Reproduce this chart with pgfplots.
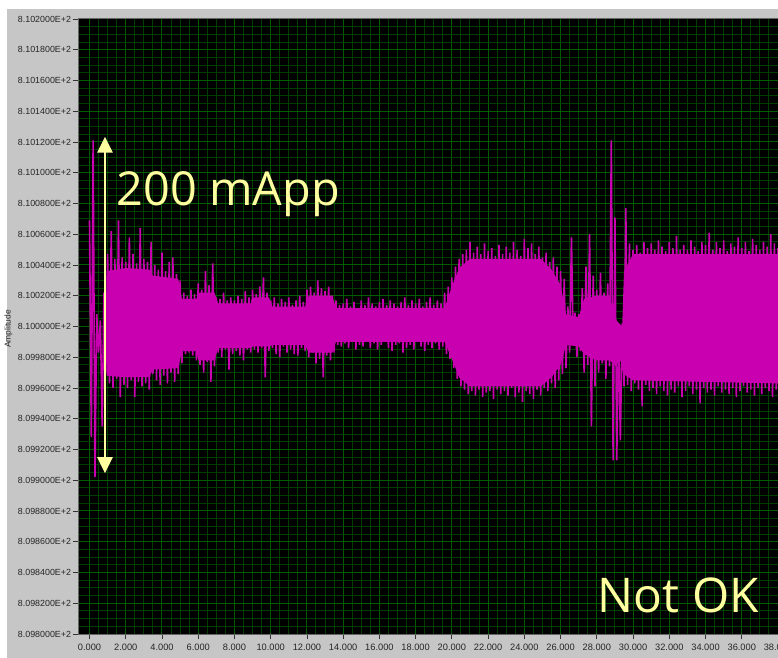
\documentclass[border=0pt]{standalone}
\usepackage{pgfplots}
\pgfplotsset{compat=1.18}
\usetikzlibrary{arrows.meta}
\usepackage{fontspec}
\setmainfont{Liberation Sans}
\newfontfamily\annotfont{Open Sans}
\definecolor{bggray}{RGB}{198,198,198}
\definecolor{gridmajor}{RGB}{0,94,0}
\definecolor{gridminor}{RGB}{0,62,0}
\definecolor{mag}{RGB}{200,0,176}
\definecolor{annot}{RGB}{255,255,160}
\begin{document}
\begin{tikzpicture}
\useasboundingbox (0,0) rectangle (778bp,658bp);
\clip (0,0) rectangle (778bp,658bp);
\fill[white] (0,0) rectangle (778bp,658bp);
\fill[bggray] (7bp,0) rectangle (778bp,649bp);
\node[rotate=90, font=\fontsize{8.5}{10}\selectfont, text=black!85] at (8.5bp,329bp) {Amplitude};
\begin{axis}[
  at={(78bp,24bp)}, anchor=south west,
  scale only axis, width=700bp, height=615bp,
  xmin=-0.635, xmax=38.0, ymin=-200, ymax=200,
  axis background/.style={fill=black},
  axis line style={draw=black!60, line width=1bp},
  xtick={0,2,...,38},
  xticklabels={0.000,2.000,4.000,6.000,8.000,10.000,12.000,14.000,16.000,18.000,20.000,22.000,24.000,26.000,28.000,30.000,32.000,34.000,36.000,38.000},
  ytick={-200,-180,...,200},
  yticklabels={8.098000E+2,8.098200E+2,8.098400E+2,8.098600E+2,8.098800E+2,8.099000E+2,8.099200E+2,8.099400E+2,8.099600E+2,8.099800E+2,8.100000E+2,8.100200E+2,8.100400E+2,8.100600E+2,8.100800E+2,8.101000E+2,8.101200E+2,8.101400E+2,8.101600E+2,8.101800E+2,8.102000E+2},
  minor x tick num=3, minor y tick num=3,
  grid=both,
  major grid style={draw=gridmajor, line width=1bp},
  minor grid style={draw=gridminor, line width=1bp},
  tick align=outside, tick pos=left,
  major tick length=5bp, minor tick length=0bp,
  every tick/.style={draw=black!80, line width=0.8bp},
  ticklabel style={text=black!85},
  xticklabel style={font=\fontsize{9.3}{10}\selectfont, yshift=-2bp},
  yticklabel style={font=\fontsize{8.9}{10}\selectfont, xshift=1.5bp},
]
% core of the noise band
\addplot[fill=mag, draw=none] coordinates {
(0.95,36)(2,38)(3.3,37)(3.5,33)(4.9,31)(5.1,18)(5.9,18)(6.0,22)(6.9,22)(7.1,15)(8.9,15)(9.0,19)(9.9,19)(10.1,13)(11.9,13)(12.1,20)(13.4,20)(13.6,12)(19.6,12)(20.0,26)(20.4,38)(21,44)(24.9,44)(25.5,37)(26.0,27)(26.3,8)(27.0,6)(27.3,18)(28.0,20)(28.7,20)(29.0,5)(29.4,0)(29.5,36)(30.0,47)(38,47)
(38,-37)(30.0,-35)(29.5,-31)(29.4,-22)(29.0,-25)(28.7,-22)(28.0,-22)(27.3,-18)(27.0,-13)(26.3,-12)(26.0,-25)(25.5,-33)(24.9,-39)(21,-39)(20.4,-33)(20.0,-21)(19.6,-10)(13.6,-10)(13.4,-17)(12.1,-17)(11.9,-12)(10.1,-12)(9.9,-13)(9.0,-13)(8.9,-14)(7.1,-14)(6.9,-22)(6.0,-22)(5.9,-16)(5.1,-16)(4.9,-27)(3.5,-28)(3.3,-33)(2,-33)(0.95,-32)
};
% oscillating signal (peak / trough samples)
\addplot[mag, line width=1.6bp, line join=bevel, mark=none] coordinates {
(0.0,69)(0.1,-72)(0.2,121)(0.3,-98)(0.4,8)(0.5,-17)(0.6,4)(0.7,-65)(0.8,22)(0.9,-30)
(1.0,47)(1.1,-37)(1.2,62)(1.3,-40)(1.4,44)(1.5,-34)(1.6,69)(1.7,-46)(1.8,45)(1.9,-38)
(2.0,42)(2.1,-40)(2.2,58)(2.3,-35)(2.4,47)(2.5,-46)(2.6,41)(2.7,-36)(2.8,64)(2.9,-39)
(3.0,44)(3.1,-37)(3.2,42)(3.3,-41)(3.4,55)(3.5,-31)(3.6,40)(3.7,-35)(3.8,37)(3.9,-38)
(4.0,48)(4.1,-32)(4.2,36)(4.3,-37)(4.4,42)(4.5,-30)(4.6,45)(4.7,-36)(4.8,34)(4.9,-31)
(5.0,30)(5.1,-24)(5.2,22)(5.3,-18)(5.4,20)(5.5,-17)(5.6,24)(5.7,-19)(5.8,21)(5.9,-22)
(6.0,28)(6.1,-25)(6.2,24)(6.3,-30)(6.4,36)(6.5,-23)(6.6,27)(6.7,-36)(6.8,41)(6.9,-26)
(7.0,19)(7.1,-17)(7.2,18)(7.3,-20)(7.4,22)(7.5,-15)(7.6,17)(7.7,-28)(7.8,19)(7.9,-18)
(8.0,17)(8.1,-16)(8.2,20)(8.3,-19)(8.4,18)(8.5,-22)(8.6,23)(8.7,-15)(8.8,19)(8.9,-17)
(9.0,24)(9.1,-15)(9.2,21)(9.3,-17)(9.4,26)(9.5,-14)(9.6,32)(9.7,-33)(9.8,22)(9.9,-16)
(10.0,17)(10.1,-14)(10.2,19)(10.3,-18)(10.4,15)(10.5,-20)(10.6,18)(10.7,-13)(10.8,16)(10.9,-17)
(11.0,19)(11.1,-15)(11.2,14)(11.3,-18)(11.4,17)(11.5,-19)(11.6,20)(11.7,-14)(11.8,16)(11.9,-16)
(12.0,24)(12.1,-20)(12.2,26)(12.3,-17)(12.4,22)(12.5,-24)(12.6,30)(12.7,-21)(12.8,25)(12.9,-33)
(13.0,23)(13.1,-19)(13.2,26)(13.3,-22)(13.4,20)(13.5,-17)(13.6,17)(13.7,-12)(13.8,14)(13.9,-13)
(14.0,15)(14.1,-11)(14.2,18)(14.3,-14)(14.4,13)(14.5,-10)(14.6,16)(14.7,-15)(14.8,12)(14.9,-12)
(15.0,17)(15.1,-13)(15.2,14)(15.3,-9)(15.4,19)(15.5,-14)(15.6,15)(15.7,-11)(15.8,13)(15.9,-15)
(16.0,16)(16.1,-12)(16.2,18)(16.3,-10)(16.4,14)(16.5,-14)(16.6,17)(16.7,-16)(16.8,15)(16.9,-12)
(17.0,13)(17.1,-11)(17.2,16)(17.3,-17)(17.4,19)(17.5,-14)(17.6,14)(17.7,-12)(17.8,17)(17.9,-15)
(18.0,15)(18.1,-10)(18.2,18)(18.3,-13)(18.4,13)(18.5,-16)(18.6,16)(18.7,-12)(18.8,19)(18.9,-14)
(19.0,14)(19.1,-11)(19.2,17)(19.3,-15)(19.4,15)(19.5,-13)(19.6,22)(19.7,-18)(19.8,26)(19.9,-21)
(20.0,32)(20.1,-27)(20.2,39)(20.3,-34)(20.4,44)(20.5,-39)(20.6,47)(20.7,-41)(20.8,50)(20.9,-44)
(21.0,55)(21.1,-42)(21.2,48)(21.3,-45)(21.4,52)(21.5,-41)(21.6,47)(21.7,-46)(21.8,54)(21.9,-43)
(22.0,49)(22.1,-42)(22.2,51)(22.3,-47)(22.4,46)(22.5,-41)(22.6,53)(22.7,-44)(22.8,47)(22.9,-42)
(23.0,52)(23.1,-45)(23.2,48)(23.3,-40)(23.4,55)(23.5,-46)(23.6,50)(23.7,-43)(23.8,46)(23.9,-49)
(24.0,57)(24.1,-42)(24.2,51)(24.3,-44)(24.4,54)(24.5,-47)(24.6,47)(24.7,-41)(24.8,52)(24.9,-45)
(25.0,45)(25.1,-40)(25.2,48)(25.3,-42)(25.4,42)(25.5,-37)(25.6,45)(25.7,-40)(25.8,39)(25.9,-35)
(26.0,36)(26.1,-31)(26.2,31)(26.3,-27)(26.4,13)(26.5,-17)(26.6,58)(26.7,-12)(26.8,9)(26.9,-20)
(27.0,8)(27.1,-16)(27.2,25)(27.3,-30)(27.4,39)(27.5,-25)(27.6,60)(27.7,-65)(27.8,33)(27.9,-39)
(28.0,24)(28.1,-30)(28.2,35)(28.3,-24)(28.4,22)(28.5,-34)(28.6,28)(28.7,-26)(28.8,121)(28.9,-87)
(29.0,71)(29.1,-87)(29.2,-2)(29.3,-74)(29.4,2)(29.5,-39)(29.6,77)(29.7,-38)(29.8,54)(29.9,-42)
(30.0,50)(30.1,-37)(30.2,53)(30.3,-41)(30.4,48)(30.5,-52)(30.6,55)(30.7,-38)(30.8,51)(30.9,-42)
(31.0,54)(31.1,-40)(31.2,50)(31.3,-44)(31.4,56)(31.5,-39)(31.6,52)(31.7,-42)(31.8,49)(31.9,-45)
(32.0,55)(32.1,-41)(32.2,51)(32.3,-43)(32.4,59)(32.5,-39)(32.6,50)(32.7,-46)(32.8,53)(32.9,-42)
(33.0,50)(33.1,-39)(33.2,56)(33.3,-44)(33.4,52)(33.5,-41)(33.6,49)(33.7,-50)(33.8,55)(33.9,-40)
(34.0,53)(34.1,-43)(34.2,61)(34.3,-41)(34.4,50)(34.5,-45)(34.6,55)(34.7,-39)(34.8,51)(34.9,-43)
(35.0,56)(35.1,-41)(35.2,49)(35.3,-44)(35.4,54)(35.5,-40)(35.6,52)(35.7,-46)(35.8,58)(35.9,-42)
(36.0,51)(36.1,-39)(36.2,55)(36.3,-43)(36.4,49)(36.5,-41)(36.6,57)(36.7,-45)(36.8,53)(36.9,-40)
(37.0,50)(37.1,-44)(37.2,55)(37.3,-40)(37.4,52)(37.5,-42)(37.6,60)(37.7,-46)(37.8,54)(37.9,-41)
(38.0,51)
};
% annotation
\draw[annot, line width=2.8bp, {Triangle[width=15bp,length=16bp]}-{Triangle[width=15bp,length=16bp]}] (axis cs:0.855,123.5) -- (axis cs:0.855,-95.4);
\node[anchor=base west, inner sep=0pt, text=annot, font=\annotfont\fontsize{47}{50}\selectfont] at (axis cs:1.5,79) {200 mApp};
\node[anchor=base west, inner sep=0pt, text=annot, font=\annotfont\fontsize{48}{50}\selectfont] at (axis cs:28.05,-185.7) {Not OK};
\end{axis}
\end{tikzpicture}
\end{document}
